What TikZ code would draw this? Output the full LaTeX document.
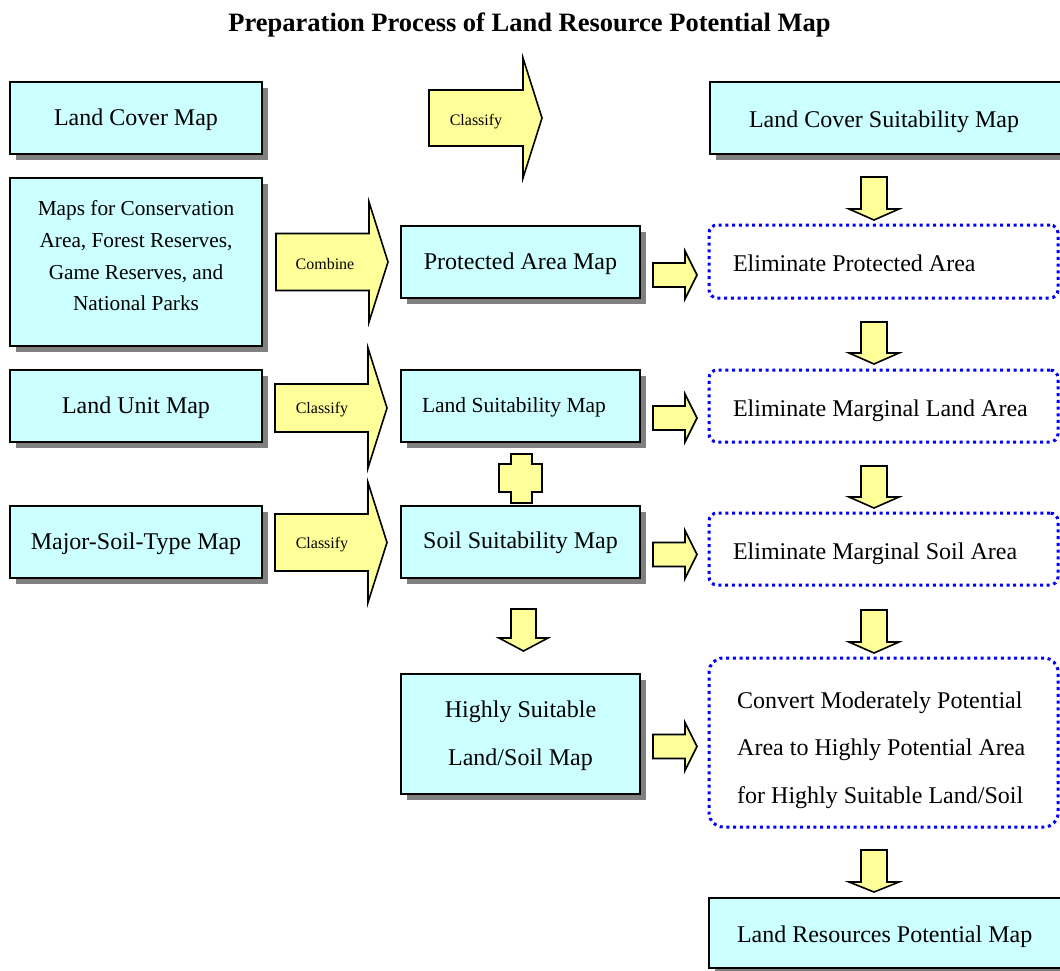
\documentclass[tikz,border=0pt]{standalone}
\usepackage{fontspec}
\setmainfont{Liberation Serif}
\usetikzlibrary{shadows}

\definecolor{boxcyan}{HTML}{CCFFFF}
\definecolor{arrowyellow}{HTML}{FFFF99}
\definecolor{shadowgray}{HTML}{808080}
\definecolor{dotblue}{HTML}{0000FF}

% right-pointing block arrow: x start, neck x, tip x, centre y, body half-height, head half-height
\newcommand{\rblock}[6]{%
  \draw[yarrow] (#1,#4-#5) -- (#2,#4-#5) -- (#2,#4-#6) -- (#3,#4)
    -- (#2,#4+#6) -- (#2,#4+#5) -- (#1,#4+#5) -- cycle;}
% downward block arrow: centre x, top y, neck y, tip y, body half-width, head half-width
\newcommand{\dblock}[6]{%
  \draw[yarrow] (#1-#5,#2) -- (#1+#5,#2) -- (#1+#5,#3) -- (#1+#6,#3)
    -- (#1,#4) -- (#1-#6,#3) -- (#1-#5,#3) -- cycle;}
% left-aligned line of given width inside a box
\newcommand{\flushtext}[2]{\makebox[#1][l]{#2}}

\tikzset{
  mapbox/.style={draw=black, line width=1.6pt, fill=boxcyan, inner sep=0pt,
    drop shadow={shadow xshift=6pt, shadow yshift=-6pt, opacity=1, fill=shadowgray},
    font=\fontsize{24}{28}\selectfont, text height=17pt, text depth=3pt},
  dotbox/.style={draw=dotblue, line width=3pt, dash pattern=on 3pt off 3.7pt,
    rounded corners=8pt, inner sep=0pt,
    font=\fontsize{24}{28}\selectfont, text height=22pt, text depth=2pt},
  yarrow/.style={draw=black, line width=1.6pt, fill=arrowyellow, line join=miter},
  armtext/.style={font=\fontsize{16}{18}\selectfont, anchor=base, inner sep=0pt},
  multitext/.style={inner sep=0pt, anchor=base},
}

\begin{document}
\begin{tikzpicture}[x=1pt, y=-1pt]
\useasboundingbox (0,0) rectangle (1060,970);
\clip (0,0) rectangle (1060,970);

% title
\node[anchor=base, inner sep=0pt, font=\bfseries\fontsize{26.5}{30}\selectfont] (title)
  at (529.5,31) {Preparation Process of Land Resource Potential Map};

% source maps
\node[mapbox, minimum width=252pt, minimum height=72pt] (landcover) at (136,118) {Land Cover Map};
\node[mapbox, minimum width=252pt, minimum height=168pt] (conserv) at (136,262) {};
\node[multitext, font=\fontsize{21.3}{31.7}\selectfont] (conserv-text) at (136,215.7)
  {\begin{tabular}[t]{@{}c@{}}Maps for Conservation\\ Area, Forest Reserves,\\ Game Reserves, and\\ National Parks\end{tabular}};
\node[mapbox, minimum width=252pt, minimum height=72pt] (landunit) at (136,406) {Land Unit Map};
\node[mapbox, minimum width=252pt, minimum height=72pt] (majorsoil) at (136,542) {Major-Soil-Type Map};

% derived maps
\node[mapbox, minimum width=239pt, minimum height=72pt] (protected) at (520.5,262) {Protected Area Map};
\node[mapbox, minimum width=239pt, minimum height=72pt, font=\fontsize{21.5}{26}\selectfont,
  text height=15pt, text depth=3pt] (landsuit) at (520.5,406) {Land Suitability Map\hspace*{13pt}};
\node[mapbox, minimum width=239pt, minimum height=72pt, text height=15pt, text depth=3pt]
  (soilsuit) at (520.5,542) {Soil Suitability Map};
\node[mapbox, minimum width=239pt, minimum height=120pt] (highly) at (520.5,734) {};
\node[multitext, font=\fontsize{24}{48}\selectfont] (highly-text) at (520.5,717)
  {\begin{tabular}[t]{@{}c@{}}Highly Suitable\\ Land/Soil Map\end{tabular}};

% right-hand column
\node[mapbox, minimum width=360pt, minimum height=72pt, text height=20pt, text depth=2pt]
  (covsuit) at (890,118) {\flushtext{282pt}{Land Cover Suitability Map}};
\node[dotbox, minimum width=349pt, minimum height=73pt]
  (elimprot) at (883.5,261.5) {\flushtext{301pt}{Eliminate Protected Area}};
\node[dotbox, minimum width=349pt, minimum height=72pt]
  (elimland) at (883.5,406) {\flushtext{301pt}{Eliminate Marginal Land Area}};
\node[dotbox, minimum width=349pt, minimum height=72pt]
  (elimsoil) at (883.5,549) {\flushtext{301pt}{Eliminate Marginal Soil Area}};
\node[dotbox, rounded corners=14pt, minimum width=349pt, minimum height=169pt] (convert) at (883.5,742.5) {};
\node[multitext, anchor=base west, font=\fontsize{24}{47.5}\selectfont] (convert-text) at (737,708)
  {\begin{tabular}[t]{@{}l@{}}Convert Moderately Potential\\ Area to Highly Potential Area\\ for Highly Suitable Land/Soil\end{tabular}};
\node[mapbox, minimum width=360pt, minimum height=70pt, text height=19pt, text depth=1pt]
  (potential) at (889,933) {\flushtext{304pt}{Land Resources Potential Map}};

% processing arrows with their labels
\rblock{429}{523}{542}{118}{28}{60}
\node[armtext] (classify-a) at (476,125) {Classify};
\rblock{276}{369}{388}{262}{28.5}{60}
\node[armtext] (combine) at (325,269) {Combine};
\rblock{275}{368}{387}{408}{24}{60}
\node[armtext] (classify-b) at (322,413) {Classify};
\rblock{275}{368}{387}{542.5}{28.5}{60}
\node[armtext] (classify-c) at (322,548) {Classify};

% small arrows into the elimination steps
\rblock{653}{685}{697}{275}{12}{24}
\rblock{653}{685}{697}{418}{12}{24}
\rblock{653}{685}{697}{554.5}{12}{24}
\rblock{653}{685}{697}{746.5}{12}{24}

% downward arrows of the right-hand column
\dblock{874}{177}{209}{220}{13}{25}
\dblock{874}{322}{353}{364}{13}{25}
\dblock{874}{466}{497}{508}{13}{25}
\dblock{874}{610}{642}{653}{13}{25}
\dblock{874}{850}{882}{892}{13}{25}

% soil suitability to highly suitable land/soil
\dblock{523.5}{609}{638}{651}{12.5}{24.5}

% plus sign joining land and soil suitability
\draw[yarrow] (511,454) -- (532,454) -- (532,464) -- (542,464) -- (542,492) -- (532,492)
  -- (532,503) -- (511,503) -- (511,492) -- (499,492) -- (499,464) -- (511,464) -- cycle;
\end{tikzpicture}
\end{document}
